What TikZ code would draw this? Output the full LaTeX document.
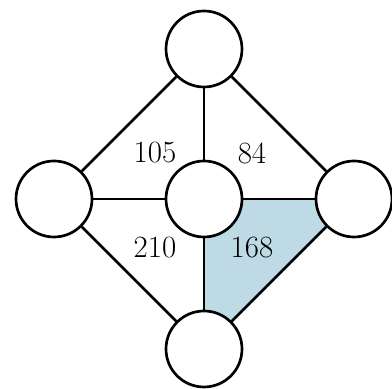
\documentclass[tikz,border=0pt]{standalone}
\usetikzlibrary{calc, backgrounds}
\definecolor{facecol}{RGB}{189,218,229}

\begin{document}
\begin{tikzpicture}[line width=1.9pt,
  spot/.style={circle, draw, fill=white, minimum size=1.9cm, inner sep=0pt},
  num/.style={font=\fontsize{22}{25}\selectfont}]

\useasboundingbox (0,0) rectangle (9.8,9.725); % keep the margins

\node[spot] (top) at (5.1,8.5) {};
\node[spot] (left) at (1.35,4.75) {};
\node[spot] (mid) at (5.1,4.75) {};
\node[spot] (right) at (8.85,4.75) {};
\node[spot] (bot) at (5.1,1.0) {};

\draw (top) -- (left);
\draw (top) -- (mid);
\draw (top) -- (right);
\draw (left) -- (mid);
\draw (mid) -- (right);
\draw (left) -- (bot);
\draw (mid) -- (bot);
\draw (right) -- (bot);

\begin{scope}[on background layer] % the shaded face
\fill[facecol] (mid.center) -- (right.center) -- (bot.center) -- cycle;
\end{scope}

\node[num] (n105) at (3.875,5.9) {105};
\node[num] (n84) at (6.3,5.9) {84};
\node[num] (n210) at (3.875,3.525) {210};
\node[num] (n168) at (6.3,3.525) {168};

\end{tikzpicture}
\end{document}
